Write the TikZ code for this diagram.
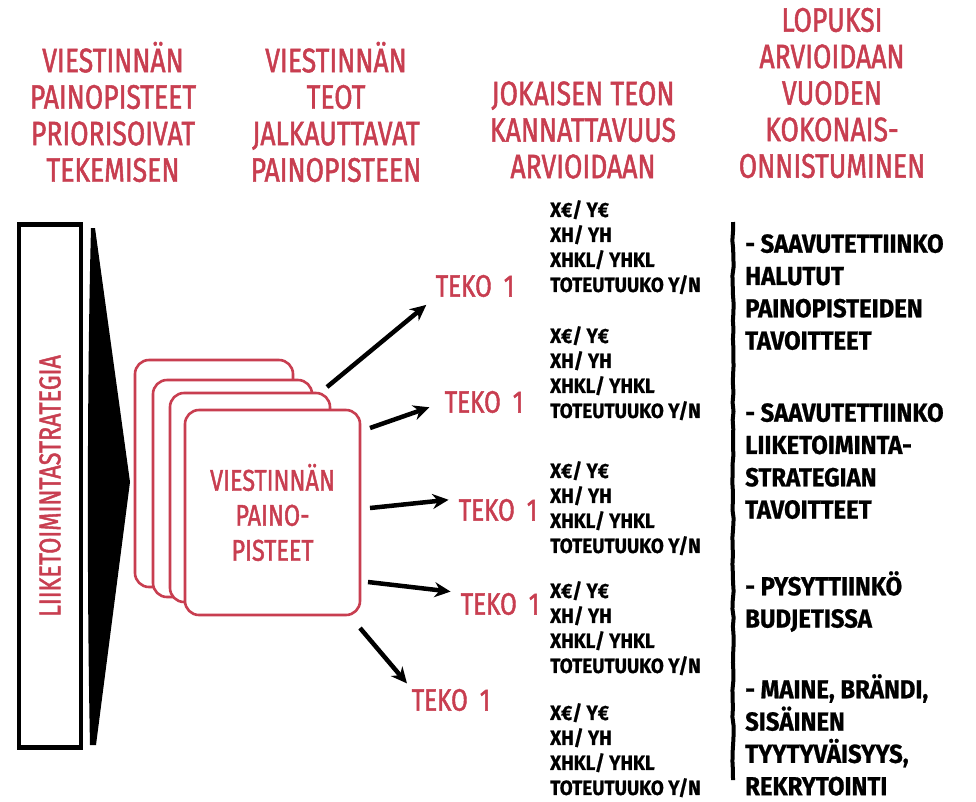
\documentclass[tikz,border=0pt]{standalone}
\usepackage{fontspec}
\newfontfamily\handfont[FakeStretch=0.78,FakeBold=1.4]{Fira Sans}
\newfontfamily\inkfont[FakeStretch=0.92,FakeBold=0.8]{Fira Sans}
\usetikzlibrary{arrows.meta,positioning,decorations.pathmorphing}
\definecolor{redink}{RGB}{200,62,80}

\begin{document}
\begin{tikzpicture}[x=1pt,y=-1pt,
  heading/.style={text=redink,align=center,inner sep=0pt,
    font=\handfont\fontsize{34}{36.5}\selectfont},
  cardbox/.style={draw=redink,line width=2.6pt,fill=white,rounded corners=14pt,inner sep=0pt},
  tekolabel/.style={text=redink,inner sep=0pt,font=\handfont\fontsize{31}{31}\selectfont},
  metrics/.style={align=left,anchor=north west,inner sep=0pt,
    font=\inkfont\bfseries\fontsize{20.5}{25}\selectfont},
  goals/.style={align=left,anchor=north west,inner sep=0pt,
    font=\inkfont\bfseries\fontsize{26}{32.3}\selectfont},
  push/.style={line width=4.5pt,-{Stealth[length=16pt,width=15pt]}},
  rough/.style={decorate,decoration={random steps,segment length=9pt,amplitude=0.7pt}}]
  \fill[white] (0,0) rectangle (976,801);
  \useasboundingbox (0,0) rectangle (976,801);
  % --- headings ---
  \node[heading] (h1) at (113,112) {VIESTINNÄN\\PAINOPISTEET\\PRIORISOIVAT\\TEKEMISEN};
  \node[heading] (h2) at (336,112) {VIESTINNÄN\\TEOT\\JALKAUTTAVAT\\PAINOPISTEEN};
  \node[heading] (h3) at (583,130) {JOKAISEN TEON\\KANNATTAVUUS\\ARVIOIDAAN};
  \node[heading] (h4) at (832,93) {LOPUKSI\\ARVIOIDAAN\\VUODEN\\KOKONAIS-\\ONNISTUMINEN};
  % --- strategy bar and wedge ---
  \node[draw,line width=4.5pt,rotate=90,minimum width=523,minimum height=62,
        text=redink,font=\handfont\fontsize{30}{30}\selectfont] (strategy) at (50,486) {LIIKETOIMINTASTRATEGIA};
  \fill (91,228) -- (95,228) -- (130,482) -- (96,745) -- (90,745)
        .. controls (87,600) and (87,380) .. (91,228) -- cycle;
  % --- stacked cards ---
  \node[cardbox,minimum width=158,minimum height=227] (card4) at (214,473.5) {};
  \node[cardbox,minimum width=159,minimum height=217] (card3) at (232.5,488.5) {};
  \node[cardbox,minimum width=160,minimum height=209] (card2) at (250,497.5) {};
  \node[cardbox,minimum width=175,minimum height=205,text=redink,align=center,
        font=\handfont\fontsize{30}{35}\selectfont] (card) at (272.5,512.5) {VIESTINNÄN\\PAINO-\\PISTEET};
  % --- actions ---
  \node[tekolabel] (teko1) at (475,286) {TEKO\hspace{12pt}1};
  \node[tekolabel] (teko2) at (484,402) {TEKO\hspace{12pt}1};
  \node[tekolabel] (teko3) at (498,510) {TEKO\hspace{12pt}1};
  \node[tekolabel] (teko4) at (500,604) {TEKO\hspace{12pt}1};
  \node[tekolabel] (teko5) at (451,700) {TEKO\hspace{12pt}1};
  \coordinate (s1) at (327,387);
  \coordinate (s2) at (370,428);
  \coordinate (s3) at (370,508);
  \coordinate (s4) at (368,582);
  \coordinate (s5) at (360,628);
  \draw[push,shorten >=12pt] (s1) -- (teko1.south west);
  \draw[push,shorten >=16pt] (s2) -- (teko2.west);
  \draw[push,shorten >=10pt] (s3) -- (teko3.north west);
  \draw[push,shorten >=10pt] (s4) -- (teko4.north west);
  \draw[push,shorten >=7pt] (s5) -- (teko5.north west);
  % --- metrics per action ---
  \foreach \n/\y in {1/200,2/326,3/461,4/581,5/703} {
    \node[metrics] (m\n) at (550,\y) {X€/ Y€\\XH/ YH\\XHKL/ YHKL\\TOTEUTUUKO Y/N};
  }
  % --- yearly evaluation ---
  \draw[line width=4pt,rough] (733,222) -- (733,780);
  \node[goals] (g1) at (745,234) {- SAAVUTETTIINKO\\HALUTUT\\PAINOPISTEIDEN\\TAVOITTEET};
  \node[goals] (g2) at (745,403) {- SAAVUTETTIINKO\\LIIKETOIMINTA-\\STRATEGIAN\\TAVOITTEET};
  \node[goals] (g3) at (745,571) {- PYSYTTIINKÖ\\BUDJETISSA};
  \node[goals] (g4) at (745,674) {- MAINE, BRÄNDI,\\SISÄINEN\\TYYTYVÄISYYS,\\REKRYTOINTI};
\end{tikzpicture}
\end{document}
